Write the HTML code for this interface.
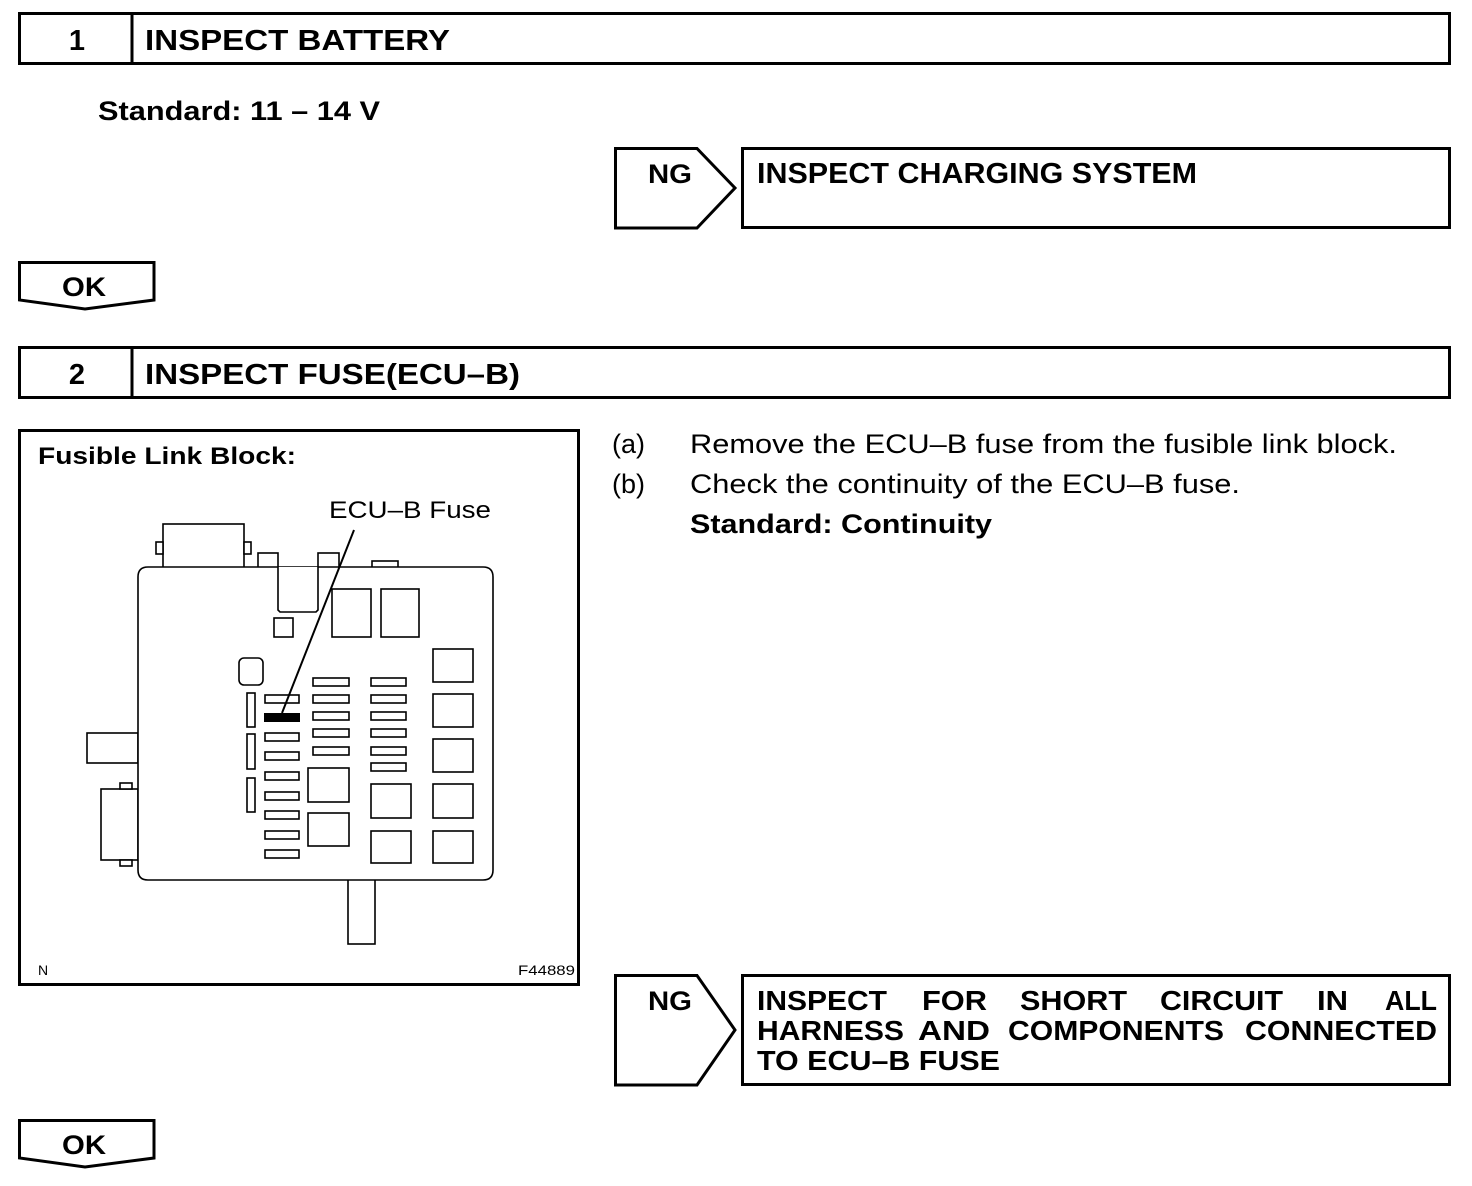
<!DOCTYPE html>
<html><head><style>
body{margin:0;background:#fff}
svg{display:block}
text{font-family:"Liberation Sans",Arial,sans-serif;fill:#000}
.b{font-weight:bold}
</style></head><body>
<svg width="1472" height="1186" viewBox="0 0 1472 1186" xmlns="http://www.w3.org/2000/svg">
<g fill="none" stroke="#000" stroke-width="3">
<rect x="19.5" y="13.5" width="1430" height="50"/>
<line x1="132" y1="13" x2="132" y2="64"/>
<polygon points="615.5,148.5 697,148.5 735,188 697,228 615.5,228"/>
<rect x="742.5" y="148.5" width="707" height="79"/>
<polygon points="19.5,262.5 154,262.5 154,300 85,309 19.5,300"/>
<rect x="19.5" y="347.5" width="1430" height="50"/>
<line x1="132" y1="347" x2="132" y2="397"/>
<rect x="19.5" y="430.5" width="559" height="554"/>
<polygon points="615.5,975.5 697,975.5 735,1030 697,1085 615.5,1085"/>
<rect x="742.5" y="975.5" width="707" height="109"/>
<polygon points="19.5,1120.5 154,1120.5 154,1158 85,1167 19.5,1158"/>
</g>
<g lengthAdjust="spacingAndGlyphs">
<text x="77" y="50" class="b" font-size="29" text-anchor="middle">1</text>
<text x="145" y="50" class="b" font-size="29" textLength="305" lengthAdjust="spacingAndGlyphs">INSPECT BATTERY</text>
<text x="98" y="120" class="b" font-size="27" textLength="282" lengthAdjust="spacingAndGlyphs">Standard: 11 – 14 V</text>
<text x="648" y="183" class="b" font-size="27" textLength="44" lengthAdjust="spacingAndGlyphs">NG</text>
<text x="757" y="183" class="b" font-size="29" textLength="440" lengthAdjust="spacingAndGlyphs">INSPECT CHARGING SYSTEM</text>
<text x="62" y="296" class="b" font-size="27" textLength="44" lengthAdjust="spacingAndGlyphs">OK</text>
<text x="77" y="384" class="b" font-size="29" text-anchor="middle">2</text>
<text x="145" y="384" class="b" font-size="29" textLength="375" lengthAdjust="spacingAndGlyphs">INSPECT FUSE(ECU–B)</text>
<text x="612" y="453" font-size="27">(a)</text>
<text x="690" y="453" font-size="27" textLength="707" lengthAdjust="spacingAndGlyphs">Remove the ECU–B fuse from the fusible link block.</text>
<text x="612" y="493" font-size="27">(b)</text>
<text x="690" y="493" font-size="27" textLength="550" lengthAdjust="spacingAndGlyphs">Check the continuity of the ECU–B fuse.</text>
<text x="690" y="533" class="b" font-size="27" textLength="302" lengthAdjust="spacingAndGlyphs">Standard: Continuity</text>
<text x="648" y="1010" class="b" font-size="27" textLength="44" lengthAdjust="spacingAndGlyphs">NG</text>
<g class="b" font-size="28">
<text x="757" y="1010" textLength="130" lengthAdjust="spacingAndGlyphs">INSPECT</text>
<text x="922" y="1010" textLength="65" lengthAdjust="spacingAndGlyphs">FOR</text>
<text x="1020" y="1010" textLength="107" lengthAdjust="spacingAndGlyphs">SHORT</text>
<text x="1160" y="1010" textLength="123" lengthAdjust="spacingAndGlyphs">CIRCUIT</text>
<text x="1317" y="1010" textLength="31" lengthAdjust="spacingAndGlyphs">IN</text>
<text x="1385" y="1010" textLength="52" lengthAdjust="spacingAndGlyphs">ALL</text>
<text x="757" y="1040" textLength="147" lengthAdjust="spacingAndGlyphs">HARNESS</text>
<text x="918" y="1040" textLength="72" lengthAdjust="spacingAndGlyphs">AND</text>
<text x="1008" y="1040" textLength="216" lengthAdjust="spacingAndGlyphs">COMPONENTS</text>
<text x="1245" y="1040" textLength="192" lengthAdjust="spacingAndGlyphs">CONNECTED</text>
<text x="757" y="1070" textLength="243" lengthAdjust="spacingAndGlyphs">TO ECU–B FUSE</text>
</g>
<text x="62" y="1154" class="b" font-size="27" textLength="44" lengthAdjust="spacingAndGlyphs">OK</text>
<text x="38" y="464" class="b" font-size="24" textLength="258" lengthAdjust="spacingAndGlyphs">Fusible Link Block:</text>
<text x="329" y="518" font-size="24" textLength="162" lengthAdjust="spacingAndGlyphs">ECU–B Fuse</text>
<text x="38" y="975" font-size="14">N</text>
<text x="518" y="975" font-size="14" textLength="57" lengthAdjust="spacingAndGlyphs">F44889</text>
</g>
<g fill="#fff" stroke="#000" stroke-width="1.6">
<rect x="163" y="524" width="81" height="45"/>
<rect x="156" y="542" width="7" height="12"/>
<rect x="244" y="542" width="7" height="12"/>
<rect x="258" y="553" width="20" height="16"/>
<rect x="318" y="553" width="21" height="16"/>
<rect x="372" y="561" width="26" height="8"/>
<rect x="87" y="733" width="51" height="30"/>
<rect x="101" y="789" width="37" height="71"/>
<rect x="120" y="783" width="12" height="6"/>
<rect x="120" y="860" width="12" height="6"/>
<rect x="348" y="875" width="27" height="69"/>
<path d="M148,567 H483 Q493,567 493,577 V870 Q493,880 483,880 H148 Q138,880 138,870 V577 Q138,567 148,567 Z"/>
<path d="M278,567 V610 L280,612 H316 L318,610 V567" />
</g>
<g fill="none" stroke="#000" stroke-width="1.6">
<rect x="332" y="589" width="39" height="48"/>
<rect x="381" y="589" width="38" height="48"/>
<rect x="274" y="618" width="19" height="19"/>
<rect x="239" y="658" width="24" height="27" rx="5"/>
<rect x="247" y="693" width="8" height="34"/>
<rect x="247" y="734" width="8" height="35"/>
<rect x="247" y="778" width="8" height="34"/>
<rect x="265" y="695" width="34" height="8"/>
<rect x="265" y="733" width="34" height="8"/>
<rect x="265" y="752" width="34" height="8"/>
<rect x="265" y="772" width="34" height="8"/>
<rect x="265" y="792" width="34" height="8"/>
<rect x="265" y="811" width="34" height="8"/>
<rect x="265" y="831" width="34" height="8"/>
<rect x="265" y="850" width="34" height="8"/>
<rect x="313" y="678" width="36" height="8"/>
<rect x="313" y="695" width="36" height="8"/>
<rect x="313" y="712" width="36" height="8"/>
<rect x="313" y="729" width="36" height="8"/>
<rect x="313" y="747" width="36" height="8"/>
<rect x="371" y="678" width="35" height="8"/>
<rect x="371" y="695" width="35" height="8"/>
<rect x="371" y="712" width="35" height="8"/>
<rect x="371" y="729" width="35" height="8"/>
<rect x="371" y="747" width="35" height="8"/>
<rect x="371" y="763" width="35" height="8"/>
<rect x="308" y="768" width="41" height="34"/>
<rect x="308" y="813" width="41" height="33"/>
<rect x="371" y="784" width="40" height="34"/>
<rect x="371" y="831" width="40" height="32"/>
<rect x="433" y="649" width="40" height="33"/>
<rect x="433" y="694" width="40" height="33"/>
<rect x="433" y="739" width="40" height="33"/>
<rect x="433" y="784" width="40" height="34"/>
<rect x="433" y="831" width="40" height="32"/>
<line x1="354" y1="530" x2="282" y2="713" stroke-width="2"/>
</g>
<rect x="264" y="713" width="36" height="9" fill="#000"/>
</svg>
</body></html>
